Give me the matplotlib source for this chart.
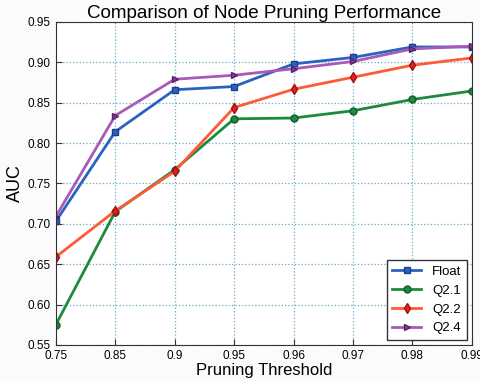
import matplotlib
matplotlib.use("Agg")
import matplotlib.pyplot as plt
import numpy as np

plt.rcParams['font.family'] = ['Liberation Sans', 'DejaVu Sans']

# pruning thresholds (shown as evenly spaced categories)
thresholds = ['0.75', '0.85', '0.9', '0.95', '0.96', '0.97', '0.98', '0.99']

float_auc = [0.703, 0.814, 0.866, 0.870, 0.898, 0.906, 0.919, 0.919]
q21_auc = [0.575, 0.715, 0.767, 0.830, 0.831, 0.840, 0.854, 0.8645]
q22_auc = [0.659, 0.716, 0.765, 0.844, 0.8666, 0.8815, 0.8964, 0.9054]
q24_auc = [0.709, 0.834, 0.879, 0.884, 0.892, 0.901, 0.9166, 0.920]

fig = plt.figure(figsize=(4.81, 3.81), dpi=100, facecolor='#fbfbfd')
ax = fig.add_axes([0.116, 0.0945, 0.865, 0.848])
ax.set_facecolor('white')

x = np.arange(len(thresholds))
ax.plot(x, float_auc, '-s', color='#2a62c0', mec='#1f3f8a', ms=5, lw=2, label='Float')
ax.plot(x, q21_auc, '-o', color='#1e8a3e', mec='#145a28', ms=5, lw=2, label='Q2.1')
ax.plot(x, q22_auc, '-d', color='#ff5a36', mfc='#e8201c', mec='#a01010', ms=5, lw=2, label='Q2.2')
ax.plot(x, q24_auc, '->', color='#a85ab8', mfc='#8a3a9a', mec='#5a2066', ms=5, lw=2, label='Q2.4')

ax.set_xlim(0, len(thresholds) - 1)
ax.set_ylim(0.55, 0.95)
ax.set_xticks(x)
ax.set_xticklabels(thresholds)
ax.set_yticks(np.arange(0.55, 0.951, 0.05))
ax.yaxis.set_major_formatter(matplotlib.ticker.FormatStrFormatter('%.2f'))
ax.tick_params(labelsize=8.5, direction='in', length=4, color='#333333')
ax.grid(True, linestyle=':', color='#6aaac8', lw=0.9)
for s in ax.spines.values():
    s.set_color('#333333')

ax.set_title('Comparison of Node Pruning Performance', fontsize=13.5, pad=3)
ax.set_xlabel('Pruning Threshold', fontsize=12, labelpad=1)
ax.set_ylabel('AUC', fontsize=13, labelpad=3)

leg = ax.legend(loc='lower right', fontsize=9.5, fancybox=False, framealpha=1,
                edgecolor='#333333', borderaxespad=0.4, handlelength=2.2)
leg.get_frame().set_linewidth(1)

fig.savefig('out.png', dpi=100, facecolor=fig.get_facecolor())
